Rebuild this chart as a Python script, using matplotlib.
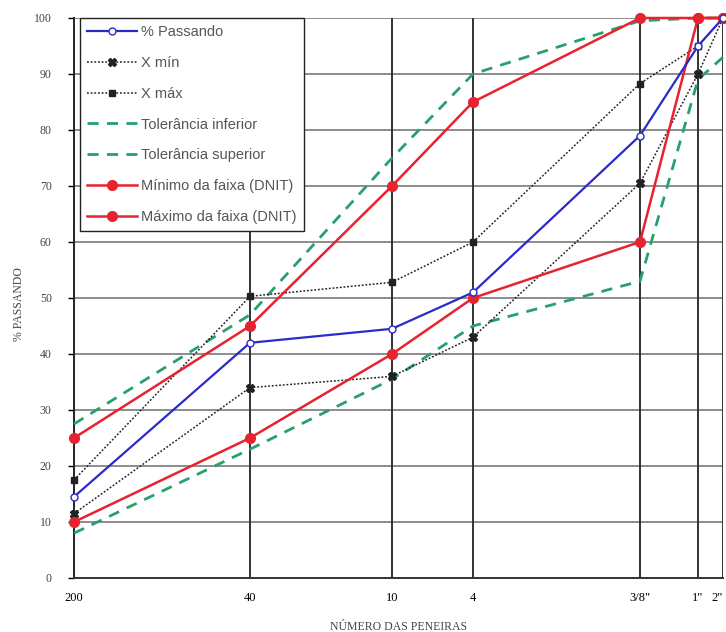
import numpy as np
import matplotlib
matplotlib.use('Agg')
import matplotlib.pyplot as plt
from matplotlib.scale import FuncScale

# peneiras e aberturas (mm)
peneiras = ['200', '40', '10', '4', '3/8"', '1"', '2"']
abertura = [0.075, 0.42, 2.0, 4.8, 9.5, 25.4, 50.8]

passando = [14.5, 42, 44.5, 51, 79, 95, 100]
x_min = [11.5, 34, 36, 43, 70.5, 90, 100]
x_max = [17.5, 50.3, 52.8, 60, 88.3, 95, 100]
tol_inf = [8, 23, 35.5, 45, 53, 89, 93]
tol_sup = [27.5, 47, 75, 90, 99.5, 100, 100]
faixa_min = [10, 25, 40, 50, 60, 100, 100]
faixa_max = [25, 45, 70, 85, 100, 100, 100]

# posicao horizontal das peneiras no grafico original (escala propria)
pos = np.array([0, 176, 318, 399, 566, 624, 649], dtype=float)
la = np.log10(abertura)

def fwd(x):
    x = np.clip(np.asarray(x, dtype=float), 1e-6, None)
    return np.interp(np.log10(x), la, pos)

def inv(p):
    return 10 ** np.interp(np.asarray(p, dtype=float), pos, la)

fig = plt.figure(figsize=(7.26, 6.32), dpi=100)
ax = fig.add_axes([74/726, 54/632, 649/726, 560/632])
ax.set_xscale(FuncScale(ax, (fwd, inv)))

ax.plot(abertura, passando, color='#2b2bc8', lw=1.6, marker='o', ms=5,
        mfc='white', mec='#2b2bc8', mew=1, label='% Passando', clip_on=False, zorder=5)
ax.plot(abertura, x_min, color='#222222', lw=1.1, ls=(0, (1.2, 1.2)), marker='X', ms=6,
        label='X mín', clip_on=False, zorder=4)
ax.plot(abertura, x_max, color='#222222', lw=1.1, ls=(0, (1.2, 1.2)), marker='s', ms=5,
        label='X máx', clip_on=False, zorder=4)
ax.plot(abertura, tol_inf, color='#27a06a', lw=2, ls=(0, (4, 3)), label='Tolerância inferior',
        clip_on=False, zorder=3)
ax.plot(abertura, tol_sup, color='#27a06a', lw=2, ls=(0, (4, 3)), label='Tolerância superior',
        clip_on=False, zorder=3)
ax.plot(abertura, faixa_min, color='#e8222e', lw=1.8, marker='o', ms=7,
        label='Mínimo da faixa (DNIT)', clip_on=False, zorder=4)
ax.plot(abertura, faixa_max, color='#e8222e', lw=1.8, marker='o', ms=7,
        label='Máximo da faixa (DNIT)', clip_on=False, zorder=4)

ax.set_xlim(abertura[0], abertura[-1])
ax.set_ylim(0, 100)
ax.set_xticks(abertura)
ax.set_xticklabels(peneiras, family='Liberation Serif', fontsize=9)
ax.get_xticklabels()[-1].set_horizontalalignment('right')
ax.minorticks_off()
ax.set_yticks(np.arange(0, 101, 10))
ax.set_yticklabels([str(v) for v in range(0, 101, 10)], family='Liberation Serif',
                   fontsize=8.5, color='#444444')
ax.tick_params(axis='x', length=0, pad=10)
ax.tick_params(axis='y', length=4, width=1, direction='out', pad=12)

for v in range(10, 101, 10):
    ax.axhline(v, color='#8c8c8c', lw=1.4, zorder=1)
for a in abertura[1:]:
    ax.axvline(a, color='#333333', lw=1.4, zorder=1)

for s in ['top', 'right']:
    ax.spines[s].set_visible(False)
ax.spines['left'].set_linewidth(1.4)
ax.spines['bottom'].set_linewidth(1.4)
ax.spines['bottom'].set_color('#333333')
ax.spines['left'].set_color('#222222')

ax.set_xlabel('NÚMERO DAS PENEIRAS', family='Liberation Serif', fontsize=8.5,
              color='#444444', labelpad=12)
ax.set_ylabel('% PASSANDO', family='Liberation Serif', fontsize=8.5,
              color='#444444')
ax.yaxis.set_label_coords(-0.075, 0.49)

leg = ax.legend(loc='upper left', bbox_to_anchor=(0.009, 1.0),
                prop={'family': 'Liberation Sans', 'size': 10.5}, frameon=True,
                fancybox=False, edgecolor='#222222', framealpha=1,
                labelspacing=1.15, handlelength=3.4, handletextpad=0.3, borderpad=0.5,
                borderaxespad=0)
leg.get_frame().set_linewidth(1)
for t in leg.get_texts():
    t.set_color('#555555')

fig.savefig('out.png', dpi=100)
